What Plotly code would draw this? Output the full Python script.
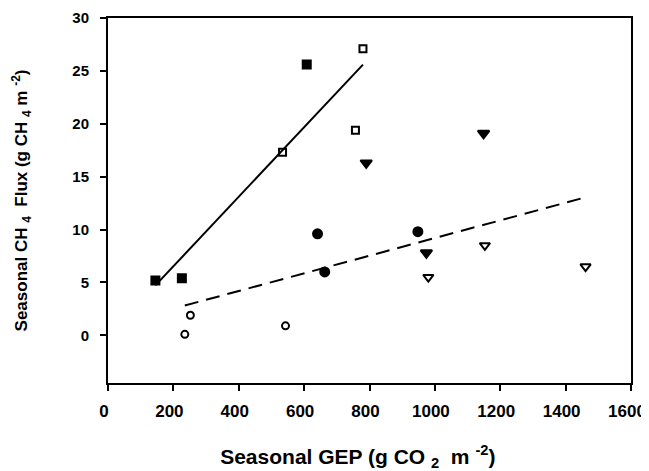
import numpy as np
import plotly.graph_objects as go

# Seasonal GEP (g CO2 m-2) and seasonal CH4 flux (g CH4 m-2)
filled_sq_x = [145, 226, 608]
filled_sq_y = [5.2, 5.4, 25.6]
open_sq_x = [534, 757, 780]
open_sq_y = [17.3, 19.4, 27.1]
filled_ci_x = [641, 663, 948]
filled_ci_y = [9.6, 6.0, 9.8]
open_ci_x = [235, 252, 543]
open_ci_y = [0.1, 1.9, 0.9]
filled_tri_x = [790, 974, 1149]
filled_tri_y = [16.3, 7.8, 19.1]
open_tri_x = [980, 1153, 1461]
open_tri_y = [5.5, 8.5, 6.5]

x_ticks = [0, 200, 400, 600, 800, 1000, 1200, 1400, 1600]
y_ticks = [0, 5, 10, 15, 20, 25, 30]

FONT = "Liberation Sans, Arial, sans-serif"

fig = go.Figure()

def fit_line(xs, ys):
    xs = np.array(xs, float); ys = np.array(ys, float)
    k, b = np.polyfit(xs, ys, 1)
    xx = np.array([xs.min(), xs.max()])
    return xx, k * xx + b

# Regression for squares (solid)
sx = filled_sq_x + open_sq_x
sy = filled_sq_y + open_sq_y
lx, ly = fit_line(sx, sy)
fig.add_trace(go.Scatter(x=lx, y=ly, mode="lines",
                         line=dict(color="black", width=2), showlegend=False))

# Regression for circles + triangles (dashed)
cx = filled_ci_x + open_ci_x + filled_tri_x + open_tri_x
cy = filled_ci_y + open_ci_y + filled_tri_y + open_tri_y
lx2, ly2 = fit_line(cx, cy)
fig.add_trace(go.Scatter(x=lx2, y=ly2, mode="lines",
                         line=dict(color="black", width=2, dash="14px,8px"),
                         showlegend=False))

def add_pts(xs, ys, symbol, size):
    fig.add_trace(go.Scatter(
        x=xs, y=ys, mode="markers", showlegend=False,
        marker=dict(symbol=symbol, size=size, color="black",
                    line=dict(color="black", width=2))))

add_pts(filled_sq_x, filled_sq_y, "square", 8)
add_pts(open_sq_x, open_sq_y, "square-open", 7)
add_pts(filled_ci_x, filled_ci_y, "circle", 9)
add_pts(open_ci_x, open_ci_y, "circle-open", 7)
add_pts(filled_tri_x, filled_tri_y, "triangle-down", 10)
add_pts(open_tri_x, open_tri_y, "triangle-down-open", 9)

axis_common = dict(
    showgrid=False, zeroline=False, showline=True, linecolor="black",
    linewidth=2, mirror=True, ticks="outside", ticklen=6, tickwidth=2,
    tickcolor="black", automargin=False,
)

# The page body has a default 8px margin, so the figure is 16px smaller
# than the window and its margins are reduced by 8px on the top/left.
fig.update_layout(
    width=641, height=463,
    paper_bgcolor="white", plot_bgcolor="white",
    margin=dict(l=100, r=18, t=10, b=88, autoexpand=False),
    font=dict(family=FONT, color="black", weight="bold"),
    xaxis=dict(range=[0, 1600], tickvals=x_ticks, ticktext=[f"<b>{v}</b>" for v in x_ticks],
               ticklabelstandoff=6, ticklabelshift=-4,
               tickfont=dict(family=FONT, size=17, color="black", weight="bold"),
               title=dict(text="<b>Seasonal GEP (g CO <sub>2</sub>  m <sup>-2</sup>)</b>&nbsp;&nbsp;&nbsp;&nbsp;",
                          font=dict(size=21, family=FONT, weight="bold"),
                          standoff=30),
               **axis_common),
    yaxis=dict(range=[-4.5, 30], tickvals=y_ticks, ticktext=[f"<b>{v}</b>" for v in y_ticks],
               ticklabelstandoff=8,
               tickfont=dict(family=FONT, size=15, color="black", weight="bold"),
               title=dict(text="<b>Seasonal CH <sub>4</sub>  Flux (g CH <sub>4</sub> m <sup>-2</sup>)</b>",
                          font=dict(size=17, family=FONT, weight="bold"),
                          standoff=40),
               **axis_common),
)

fig.write_html("out.html")
